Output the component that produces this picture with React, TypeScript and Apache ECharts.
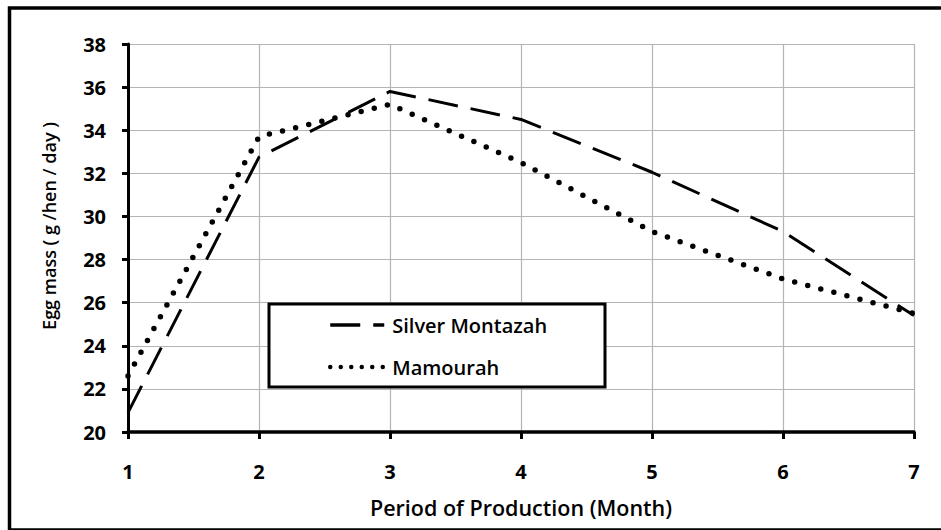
import React, { useEffect, useRef } from "react";
import * as echarts from "echarts";

const months = [1, 2, 3, 4, 5, 6, 7];
const silverMontazah = [20.9, 32.75, 35.8, 34.5, 32.05, 29.3, 25.4];
const mamourah = [22.6, 33.7, 35.2, 32.5, 29.3, 27.1, 25.5];
const seriesNames = ["Silver Montazah", "Mamourah"];
const xTitle = "Period of Production (Month)";
const yTitle = "Egg mass ( g /hen / day )";

const FONT = "Open Sans";

export default function App() {
  const ref = useRef<HTMLDivElement>(null);
  useEffect(() => {
    if (!ref.current) return;
    const chart = echarts.init(ref.current, null, { renderer: "svg" });
    const grid = "#b4b4b4";
    chart.setOption({
      animation: false,
      backgroundColor: "#ffffff",
      grid: { left: 128, right: 27, top: 44, bottom: 98 },
      xAxis: {
        type: "value",
        min: 1,
        max: 7,
        interval: 1,
        name: xTitle,
        nameLocation: "middle",
        nameGap: 64,
        nameTextStyle: { fontFamily: FONT, fontSize: 21.5, fontWeight: 600, color: "#000" },
        axisLine: { show: true, onZero: false, lineStyle: { color: "#000", width: 3.5 } },
        axisTick: { show: true, length: 7, lineStyle: { color: "#000", width: 3 } },
        axisLabel: { margin: 29, fontFamily: FONT, fontSize: 20, fontWeight: "bold", color: "#000" },
        splitLine: { show: true, lineStyle: { color: grid, width: 1.2 } },
      },
      yAxis: {
        type: "value",
        min: 20,
        max: 38,
        interval: 2,
        name: yTitle,
        nameLocation: "middle",
        nameGap: 70,
        nameTextStyle: { fontFamily: FONT, fontSize: 18, fontWeight: 600, color: "#000", padding: [0, 0, 0, 24] },
        axisLine: { show: true, lineStyle: { color: "#000", width: 3 } },
        axisTick: { show: true, length: 6, lineStyle: { color: "#000", width: 3 } },
        axisLabel: { margin: 22, fontFamily: FONT, fontSize: 20, fontWeight: "bold", color: "#000" },
        splitLine: { show: true, lineStyle: { color: grid, width: 1.2 } },
      },
      legend: {
        show: true,
        orient: "vertical",
        left: 323,
        top: 310,
        itemWidth: 54,
        itemHeight: 20,
        itemGap: 22,
        data: [
          { name: seriesNames[0], lineStyle: { color: "#000", width: 3.5, type: [30, 13], cap: "butt" } },
          { name: seriesNames[1], lineStyle: { color: "#000", width: 4.5, type: [0, 10.5], cap: "round" } },
        ],
        itemStyle: { opacity: 0 },
        textStyle: { fontFamily: FONT, fontSize: 20, lineHeight: 20, fontWeight: 600, color: "#000", padding: [0, 0, 0, 3] },
        z: 10,
      },
      graphic: [
        {
          type: "rect",
          z: 1,
          shape: { x: 269, y: 304, width: 336, height: 83 },
          style: { fill: "#fff", stroke: "#000", lineWidth: 3 },
        },
        {
          type: "rect",
          z: 100,
          silent: true,
          shape: { x: 9.5, y: 8, width: 1000, height: 522 },
          style: { fill: "none", stroke: "#000", lineWidth: 3.5 },
        },
      ],
      series: [
        {
          name: seriesNames[0],
          type: "line",
          data: months.map((m, i) => [m, silverMontazah[i]]),
          symbol: "none",
          color: "#000",
          z: 3,
          lineStyle: { color: "#000", width: 3, type: [30, 13], cap: "butt" },
        },
        {
          name: seriesNames[1],
          type: "line",
          data: months.map((m, i) => [m, mamourah[i]]),
          symbol: "none",
          color: "#000",
          z: 3,
          lineStyle: { color: "#000", width: 5.5, type: [0, 13.5], cap: "round" },
        },
      ],
    });
    return () => chart.dispose();
  }, []);
  return (
    <div
      ref={ref}
      style={{ position: "fixed", left: 0, top: 0, width: 941, height: 530 }}
    />
  );
}
